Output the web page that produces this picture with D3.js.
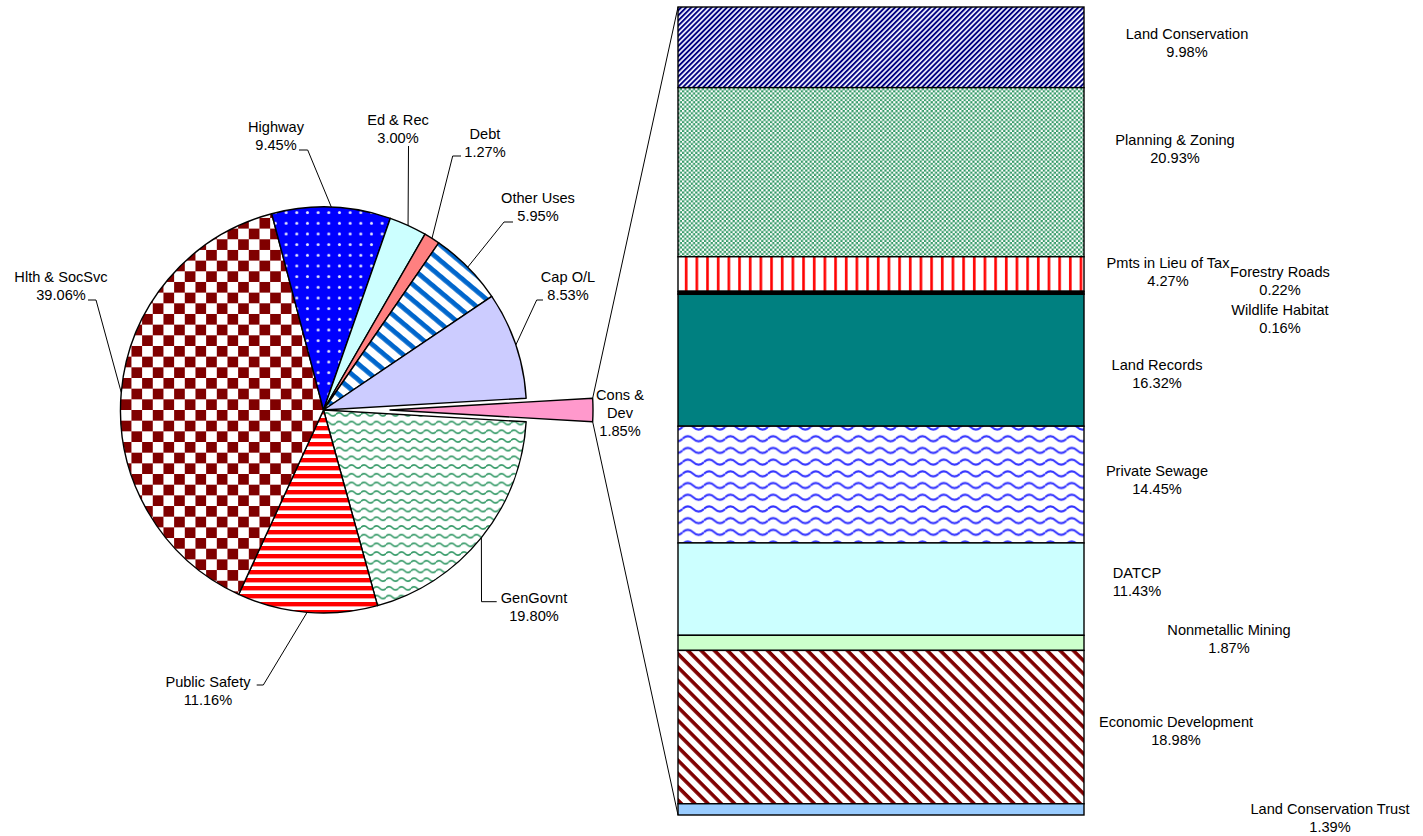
<!DOCTYPE html>
<html><head><meta charset="utf-8">
<script src="https://cdn.jsdelivr.net/npm/d3@7"></script>
<style>body{margin:0;background:#fff}svg{display:block}</style>
</head><body><svg id="c" width="1423" height="836"></svg>
<script>
// ---------- DATA ----------
const pieCategories = ["GenGovnt","Public Safety","Hlth & SocSvc","Highway","Ed & Rec","Debt","Other Uses","Cap O/L","Cons & Dev"];
const pieValues = [19.80, 11.16, 39.06, 9.45, 3.00, 1.27, 5.95, 8.53, 1.85];
const barCategories = ["Land Conservation","Planning & Zoning","Pmts in Lieu of Tax","Forestry Roads","Wildlife Habitat","Land Records","Private Sewage","DATCP","Nonmetallic Mining","Economic Development","Land Conservation Trust"];
const barValues = [9.98, 20.93, 4.27, 0.22, 0.16, 16.32, 14.45, 11.43, 1.87, 18.98, 1.39];

// ---------- LAYOUT / STYLE ----------
const pieFills = ["url(#gen)","url(#ps)","url(#hlth)","url(#hwy)","#ccffff","#ff8080","url(#other)","#ccccff","#ff99cc"];
const barFills = ["url(#lc)","url(#pz)","url(#pmts)","#000000","#000000","#008080","url(#sew)","#ccffff","#ccffcc","url(#econ)","#99ccff"];
const pieLabelNames = [["GenGovnt"],["Public Safety"],["Hlth & SocSvc"],["Highway"],["Ed & Rec"],["Debt"],["Other Uses"],["Cap O/L"],["Cons &","Dev"]];
// label centre (x, y of first line) and leader: [text-side point, elbow]
const pieLabelPos = [[534,598],[208,682],[61,277],[276,127],[398,120],[485,134],[538,198],[568,277],[620,395]];
const pieLeaders = [[[496.7,601.7],[481.5,601.7]],[[256.7,685],[263.3,685]],[[88,300],[96,300]],[[299,150],[307.7,150]],[[408.5,146],[408.5,146]],[[461,156],[452.7,156]],[[513,222],[504,222]],[[543,300],[536.7,300]],null];
const barLabelPos = [[1187,34],[1175,140],[1168,263],[1280,272],[1280,310],[1157,365],[1157,471],[1137,573],[1229,630],[1176,722],[1330,809]];

const cx = 323.5, cy = 410, R = 203, explode = 66.5;
const barX = 678, barW = 406, barTop = 7, barBottom = 815;
const FONT = "'Liberation Sans', Arial, sans-serif";
const FS = 14.6, LH = 18;

const svg = d3.select("#c");
const defs = svg.append("defs");
function pat(id, w, h, bg, draw, transform){
  const p = defs.append("pattern").attr("id", id).attr("patternUnits","userSpaceOnUse")
    .attr("width", w).attr("height", h);
  if (transform) p.attr("patternTransform", transform);
  p.append("rect").attr("width", w).attr("height", h).attr("fill", bg);
  draw(p);
}
function wave(W, H, a){
  const c = H/2;
  return `M0,${c} Q${W/4},${c-2*a} ${W/2},${c} T${W},${c}`;
}
// pie patterns
pat("hlth", 21.34, 21.34, "#fff", p => {
  p.append("rect").attr("width",10.67).attr("height",10.67).attr("fill","#800000");
  p.append("rect").attr("x",10.67).attr("y",10.67).attr("width",10.67).attr("height",10.67).attr("fill","#800000");
});
pat("hwy", 10.67, 10.67, "#0000ff", p => {
  p.append("circle").attr("cx",5.3).attr("cy",5.3).attr("r",1.5).attr("fill","#e6e6ff");
});
pat("other", 12, 12, "#fff", p => {
  p.append("rect").attr("width",12).attr("height",4.8).attr("fill","#0066cc");
}, "rotate(40)");
pat("gen", 12.5, 8.7, "#fff", p => {
  p.append("path").attr("d", wave(12.5, 8.7, 1.6)).attr("fill","none").attr("stroke","#339966").attr("stroke-width",1.7);
});
pat("ps", 8, 8, "#fff", p => {
  p.append("rect").attr("width",8).attr("height",4.4).attr("fill","#ff0000");
});
// bar patterns
pat("lc", 3.6, 3.6, "#f2f2ff", p => {
  p.append("rect").attr("width",3.6).attr("height",1.9).attr("fill","#000080");
}, "rotate(-45)");
pat("pz", 4.4, 4.4, "#339966", p => {
  p.append("rect").attr("width",2.2).attr("height",2.2).attr("fill","#fff");
  p.append("rect").attr("x",2.2).attr("y",2.2).attr("width",2.2).attr("height",2.2).attr("fill","#fff");
});
pat("pmts", 10.67, 10, "#fff", p => {
  p.append("rect").attr("x",2).attr("width",2.6).attr("height",10).attr("fill","#ff0000");
});
pat("sew", 21.33, 11.7, "#fff", p => {
  p.append("path").attr("d", wave(21.33, 11.7, 2.6)).attr("fill","none").attr("stroke","#3333ff").attr("stroke-width",2);
});
pat("econ", 9.4, 9.4, "#fff", p => {
  p.append("rect").attr("width",9.4).attr("height",3.6).attr("fill","#800000");
}, "rotate(45)");

// ---------- PIE ----------
const total = d3.sum(pieValues);
const last = pieValues.length - 1;
const a0 = Math.PI/2 + Math.PI * pieValues[last] / total;
const pie = d3.pie().sort(null).value(d => d).startAngle(a0).endAngle(a0 + 2*Math.PI);
const arcs = pie(pieValues);
const arc = d3.arc().innerRadius(0).outerRadius(R);
const mid = d => (d.startAngle + d.endAngle)/2;
const offs = (d,i) => i === last ? [explode*Math.sin(mid(d)), -explode*Math.cos(mid(d))] : [0,0];

const gp = svg.append("g").attr("transform", `translate(${cx},${cy})`);
gp.selectAll("path.slice").data(arcs).join("path").attr("class","slice")
  .attr("d", arc)
  .attr("transform", (d,i) => `translate(${offs(d,i)})`)
  .attr("fill", (d,i) => pieFills[i])
  .attr("stroke", "#000").attr("stroke-width", 1.4).attr("stroke-linejoin","round");

// ---------- BAR ----------
const barTotal = d3.sum(barValues);
const y = d3.scaleLinear().domain([0, barTotal]).range([barTop, barBottom]);
const cum = d3.cumsum(barValues);
const segs = barValues.map((v,i) => ({v, y0: cum[i]-v, y1: cum[i]}));
svg.append("g").selectAll("rect").data(segs).join("rect")
  .attr("x", barX).attr("width", barW)
  .attr("y", d => y(d.y0)).attr("height", d => y(d.y1) - y(d.y0))
  .attr("fill", (d,i) => barFills[i])
  .attr("stroke", "#000").attr("stroke-width", 1.4);

// connector lines
const ex = arcs[last];
const eo = offs(ex, last);
const pt = a => [cx + eo[0] + R*Math.sin(a), cy + eo[1] - R*Math.cos(a)];
const pTop = pt(ex.startAngle), pBot = pt(ex.endAngle);
svg.append("line").attr("x1", pTop[0]).attr("y1", pTop[1]).attr("x2", barX).attr("y2", y(0)).attr("stroke","#000").attr("stroke-width",1);
svg.append("line").attr("x1", pBot[0]).attr("y1", pBot[1]).attr("x2", barX).attr("y2", y(barTotal)).attr("stroke","#000").attr("stroke-width",1);

// ---------- LABELS ----------
const fmt = v => v.toFixed(2) + "%";
const line = d3.line();
arcs.forEach((d,i) => {
  const L = pieLeaders[i];
  if (L) {
    const m = mid(d);
    const end = [cx + R*Math.sin(m), cy - R*Math.cos(m)];
    svg.append("path").attr("d", line([L[0], L[1], end])).attr("fill","none").attr("stroke","#000").attr("stroke-width",1);
  }
  const lines = pieLabelNames[i].concat([fmt(pieValues[i])]);
  const t = svg.append("text").attr("font-family", FONT).attr("font-size", FS).attr("fill","#000")
    .attr("text-anchor","middle");
  lines.forEach((s,k) => t.append("tspan").attr("x", pieLabelPos[i][0]).attr("y", pieLabelPos[i][1] + k*LH).attr("dominant-baseline","central").text(s));
});
barCategories.forEach((c,i) => {
  const t = svg.append("text").attr("font-family", FONT).attr("font-size", FS).attr("fill","#000")
    .attr("text-anchor","middle");
  [c, fmt(barValues[i])].forEach((s,k) => t.append("tspan").attr("x", barLabelPos[i][0]).attr("y", barLabelPos[i][1] + k*LH).attr("dominant-baseline","central").text(s));
});
</script>
</body></html>
